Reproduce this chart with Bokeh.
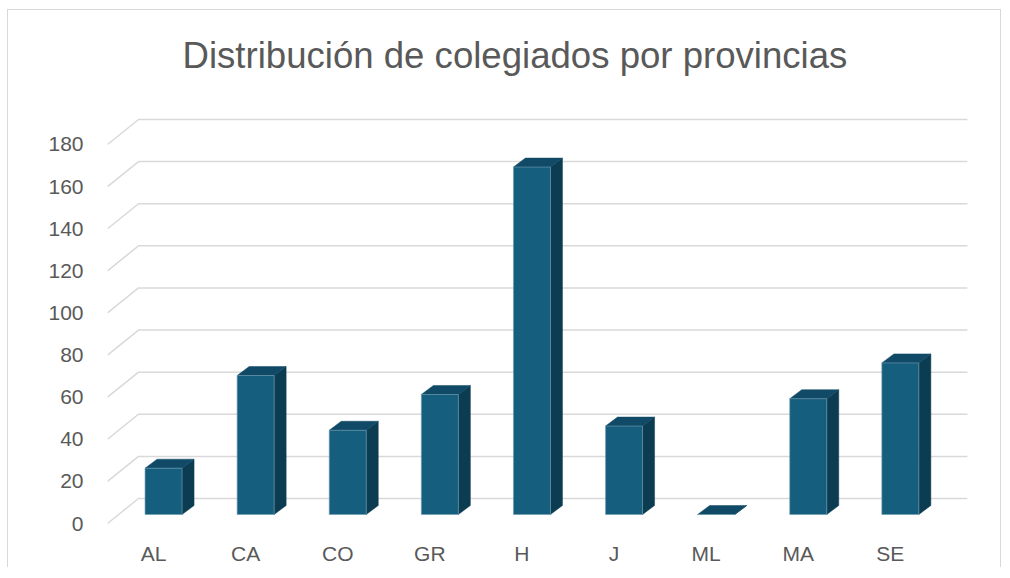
from bokeh.plotting import figure
from bokeh.models import FixedTicker, Range1d, Title
from bokeh.embed import file_html
from bokeh.resources import INLINE

# ---- data ----
provincias = ["AL", "CA", "CO", "GR", "H", "J", "ML", "MA", "SE"]
colegiados = [22, 66, 40, 57, 165, 42, 0, 55, 72]
y_ticks = [0, 20, 40, 60, 80, 100, 120, 140, 160, 180]
titulo = "Distribución de colegiados por provincias"

# ---- pseudo-3D geometry (pixel sizes converted to data units) ----
PX_X = 92.1      # pixels per category
PX_Y = 2.1056    # pixels per value unit
DEPTH_DX, DEPTH_DY = 31 / PX_X, 25 / PX_Y   # full depth of the "floor"
FRONT_DX, FRONT_DY = 10 / PX_X, 9 / PX_Y    # bar front face offset
BACK_DX, BACK_DY = 22 / PX_X, 18 / PX_Y     # bar back face offset
BAR_W = 37 / PX_X

TEXT = "#595959"
GRID = "#D9D9D9"
FRONT = "#165E7D"
TOP = "#104A66"
SIDE = "#0C3C51"

n = len(provincias)
x_start, x_end = 0, (975 - 107) / PX_X
y_start, y_end = (522 - 525) / PX_Y, (522 - 110) / PX_Y

p = figure(width=994, height=558, output_backend="svg", toolbar_location=None,
           x_range=Range1d(x_start, x_end), y_range=Range1d(y_start, y_end),
           min_border_left=99, min_border_right=27, min_border_top=101,
           min_border_bottom=42, title=None)
p.outline_line_color = None
p.xgrid.visible = False
p.ygrid.visible = False
p.background_fill_color = "white"
p.border_fill_color = "white"
p.styles = {"margin-left": "7px", "margin-top": "9px",
            "border-left": "1px solid #D9D9D9", "border-top": "1px solid #D9D9D9",
            "border-right": "1px solid #D9D9D9"}

# spacer between title and frame, then title
p.add_layout(Title(text=" ", text_font_size="17px"), "above")
t = Title(text=titulo, align="left", offset=75, text_font="Liberation Sans",
          text_font_size="36.6px", text_font_style="normal", text_color=TEXT)
p.add_layout(t, "above")

# gridlines in perspective
gx, gy = [], []
for tv in y_ticks:
    gx.append([0, DEPTH_DX, n + DEPTH_DX])
    gy.append([tv, tv + DEPTH_DY, tv + DEPTH_DY])
p.multi_line(gx, gy, line_color=GRID, line_width=1.5)

# bars
fx, fy, sx, sy, tx, ty = [], [], [], [], [], []
ddx, ddy = BACK_DX - FRONT_DX, BACK_DY - FRONT_DY
for i, v in enumerate(colegiados):
    c = i + 0.5
    xl = c - BAR_W / 2 + FRONT_DX
    xr = c + BAR_W / 2 + FRONT_DX
    b = FRONT_DY
    top = b + v
    fx.append([xl, xr, xr, xl]); fy.append([b, b, top, top])
    sx.append([xr, xr + ddx, xr + ddx, xr]); sy.append([b, b + ddy, top + ddy, top])
    tx.append([xl, xr, xr + ddx, xl + ddx]); ty.append([top, top, top + ddy, top + ddy])
p.patches(sx, sy, fill_color=SIDE, line_color=SIDE, line_width=0.5)
p.patches(tx, ty, fill_color=TOP, line_color=TOP, line_width=0.5)
p.patches(fx, fy, fill_color=FRONT, line_color="#6E9CB1", line_width=0.8, line_alpha=0.8)

# y axis
p.yaxis.ticker = FixedTicker(ticks=y_ticks)
p.yaxis.axis_line_color = None
p.yaxis.major_tick_line_color = None
p.yaxis.minor_tick_line_color = None
p.yaxis.major_label_standoff = 18
p.yaxis.major_label_text_font = "Liberation Sans"
p.yaxis.major_label_text_font_size = "21px"
p.yaxis.major_label_text_color = TEXT

# x axis (categories)
x_pos = [i + 0.5 for i in range(n)]
p.xaxis.ticker = FixedTicker(ticks=x_pos)
p.xaxis.major_label_overrides = {x: lab for x, lab in zip(x_pos, provincias)}
p.xaxis.axis_line_color = None
p.xaxis.major_tick_line_color = None
p.xaxis.minor_tick_line_color = None
p.xaxis.major_label_standoff = 9
p.xaxis.major_label_text_font = "Liberation Sans"
p.xaxis.major_label_text_font_size = "21px"
p.xaxis.major_label_text_color = TEXT

open("out.html", "w").write(file_html(p, INLINE))
